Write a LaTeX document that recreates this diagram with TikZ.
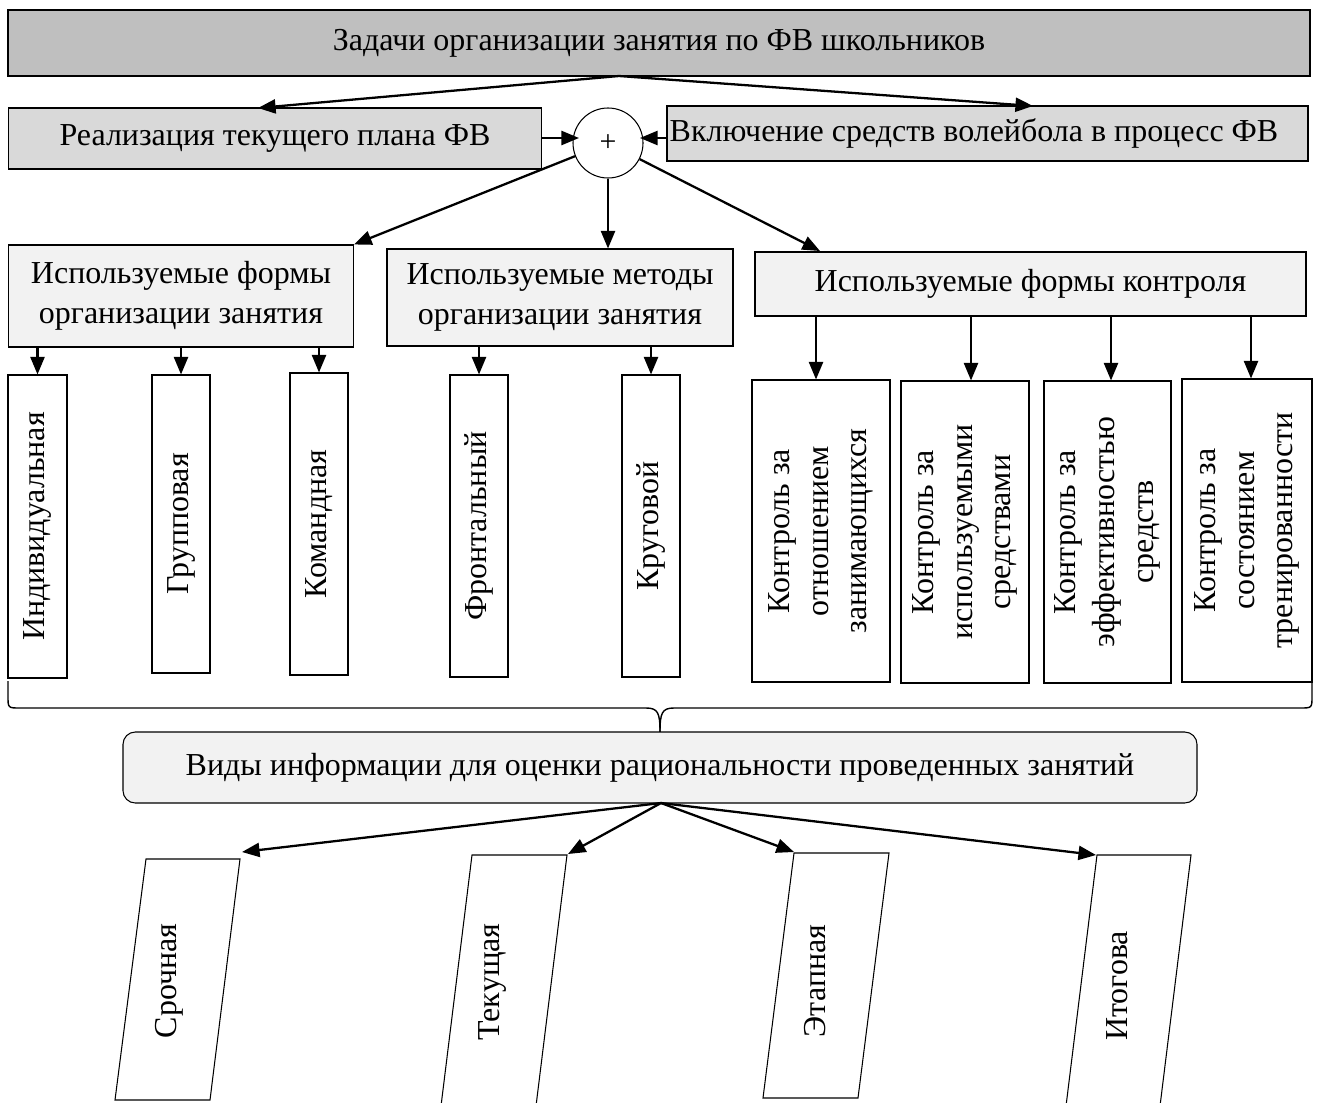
\documentclass[tikz,border=0pt]{standalone}
\usepackage{fontspec}
\setmainfont{Liberation Serif}
\usetikzlibrary{arrows.meta,calc}
\definecolor{gA}{RGB}{191,191,191}
\definecolor{gB}{RGB}{217,217,217}
\definecolor{gC}{RGB}{242,242,242}
\begin{document}
\begin{tikzpicture}[x={(0.02cm,0)},y={(0,-0.02cm)},
  sz/.style 2 args={minimum width={#1*0.02cm},minimum height={#2*0.02cm}},
  box/.style={draw=black,line width=0.6pt,inner sep=0pt,align=center,font=\fontsize{18.2}{22.5}\selectfont},
  plain/.style={draw=black,line width=0.6pt,inner sep=0pt,fill=white},
  txt/.style={inner sep=0pt,align=center,font=\fontsize{18.2}{22.5}\selectfont},
  vtext/.style={rotate=90,inner sep=0pt,align=center,font=\fontsize{18.2}{22}\selectfont},
  arr/.style={-{Triangle[length=10pt,width=8pt]},line width=1.3pt},
  thinline/.style={line width=0.6pt}]
\useasboundingbox (0,0) rectangle (1317,1102);

% top level
\node[box,fill=gA,sz={1302}{66}] (top) at (659,43) {Задачи организации занятия по ФВ школьников};
\node[box,fill=gB,sz={533}{61}] (real) at (275,138.5) {Реализация текущего плана ФВ};
\node[plain,fill=gB,sz={641}{55}] (vkl) at (987.5,133.5) {};
\node[txt] (vklt) at (974,133.5) {Включение средств волейбола в процесс ФВ};
\node[draw=black,line width=0.6pt,circle,inner sep=0pt,minimum size={70*0.02cm},font=\fontsize{17}{17}\selectfont] (circ) at (608,143) {+};

\coordinate (tA) at (619,76);
\coordinate (rT) at (258,108);
\coordinate (vT) at (1033,106);
\draw[arr] (tA) -- (rT);
\draw[arr] (tA) -- (vT);
\coordinate (rE) at (541,138);
\coordinate (cW) at (579,138);
\coordinate (vW) at (667,138);
\coordinate (cE) at (640,138);
\draw[arr] (rE) -- (cW);
\draw[arr] (vW) -- (cE);

% second level
\node[box,fill=gC,sz={345}{102}] (formy) at (181,296) {Используемые формы\\организации занятия};
\node[box,fill=gC,sz={346}{97}] (metody) at (560,297.5) {Используемые методы\\организации занятия};
\node[box,fill=gC,sz={551}{64}] (kontr) at (1030.5,284) {Используемые формы контроля};

\coordinate (kT) at (820,251);
\draw[arr] (circ) -- (formy.north east);
\draw[arr] (circ.south) -- (circ.south |- metody.north);
\draw[arr] (circ) -- (kT);

% forms
\node[plain,sz={59}{303}] (ind) at (37.5,526.5) {};
\node[plain,sz={58}{298}] (grp) at (181,524) {};
\node[plain,sz={58}{302}] (kom) at (319,524) {};
\node[plain,sz={58}{302}] (fro) at (479,526) {};
\node[plain,sz={58}{302}] (kru) at (651,526) {};
\node[vtext] (indt) at (ind) {Индивидуальная};
\node[vtext] (grpt) at (grp) {Групповая};
\node[vtext] (komt) at (kom) {Командная};
\node[vtext] (frot) at (fro) {Фронтальный};
\node[vtext] (krut) at (kru) {Круговой};

\draw[arr] (formy.south -| ind.north) -- (ind.north);
\draw[arr] (formy.south -| grp.north) -- (grp.north);
\draw[arr] (formy.south -| kom.north) -- (kom.north);
\draw[arr] (metody.south -| fro.north) -- (fro.north);
\draw[arr] (metody.south -| kru.north) -- (kru.north);

% control
\node[plain,sz={138}{302}] (k1) at (821,531) {};
\node[plain,sz={128}{302}] (k2) at (965,532) {};
\node[plain,sz={127}{302}] (k3) at (1107.5,532) {};
\node[plain,sz={130}{303}] (k4) at (1247,530.5) {};
\node[vtext] (k1t) at (k1) {Контроль за\\отношением\\занимающихся};
\node[vtext] (k2t) at (k2) {Контроль за\\используемыми\\средствами};
\node[vtext] (k3t) at (k3) {Контроль за\\эффективностью\\средств};
\node[vtext] (k4t) at (k4) {Контроль за\\состоянием\\тренированности};

\draw[arr] (kontr.south -| 816,0) -- (k1.north -| 816,0);
\draw[arr] (kontr.south -| 971,0) -- (k2.north -| 971,0);
\draw[arr] (kontr.south -| 1111,0) -- (k3.north -| 1111,0);
\draw[arr] (kontr.south -| 1251,0) -- (k4.north -| 1251,0);

% brace
\draw[line width=0.8pt] (8,681) -- (8,696) .. controls (8,708) .. (20,708) -- (646,708)
   .. controls (658,708) and (660,713) .. (660,732);
\draw[line width=0.8pt] (1312,681) -- (1312,696) .. controls (1312,708) .. (1300,708) -- (674,708)
   .. controls (662,708) and (660,713) .. (660,732);

% information box
\node[box,fill=gC,rounded corners=7pt,sz={1074}{71}] (vid) at (660,767.5) {Виды информации для оценки рациональности проведенных занятий};

% parallelograms
\draw[thinline] (146,859) -- (240,859) -- (210,1100) -- (115,1100) -- cycle;
\draw[thinline] (472,855) -- (567,855) -- (536,1106) -- (441,1106) -- cycle;
\draw[thinline] (794,853) -- (889,853) -- (858,1098) -- (763,1098) -- cycle;
\draw[thinline] (1097,855) -- (1191,855) -- (1160,1106) -- (1066,1106) -- cycle;
\node[vtext] (sr) at (169,981) {Срочная};
\node[vtext] (tk) at (492,982) {Текущая};
\node[vtext] (et) at (815,981) {Этапная};
\node[vtext] (it) at (1117,986) {Итогова};

\coordinate (vB) at (661,803);
\coordinate (srT) at (242,852);
\coordinate (tkT) at (568,854);
\coordinate (etT) at (794,852);
\coordinate (itT) at (1096,855);
\draw[arr] (vB) -- (srT);
\draw[arr] (vB) -- (tkT);
\draw[arr] (vB) -- (etT);
\draw[arr] (vB) -- (itT);
\end{tikzpicture}
\end{document}
